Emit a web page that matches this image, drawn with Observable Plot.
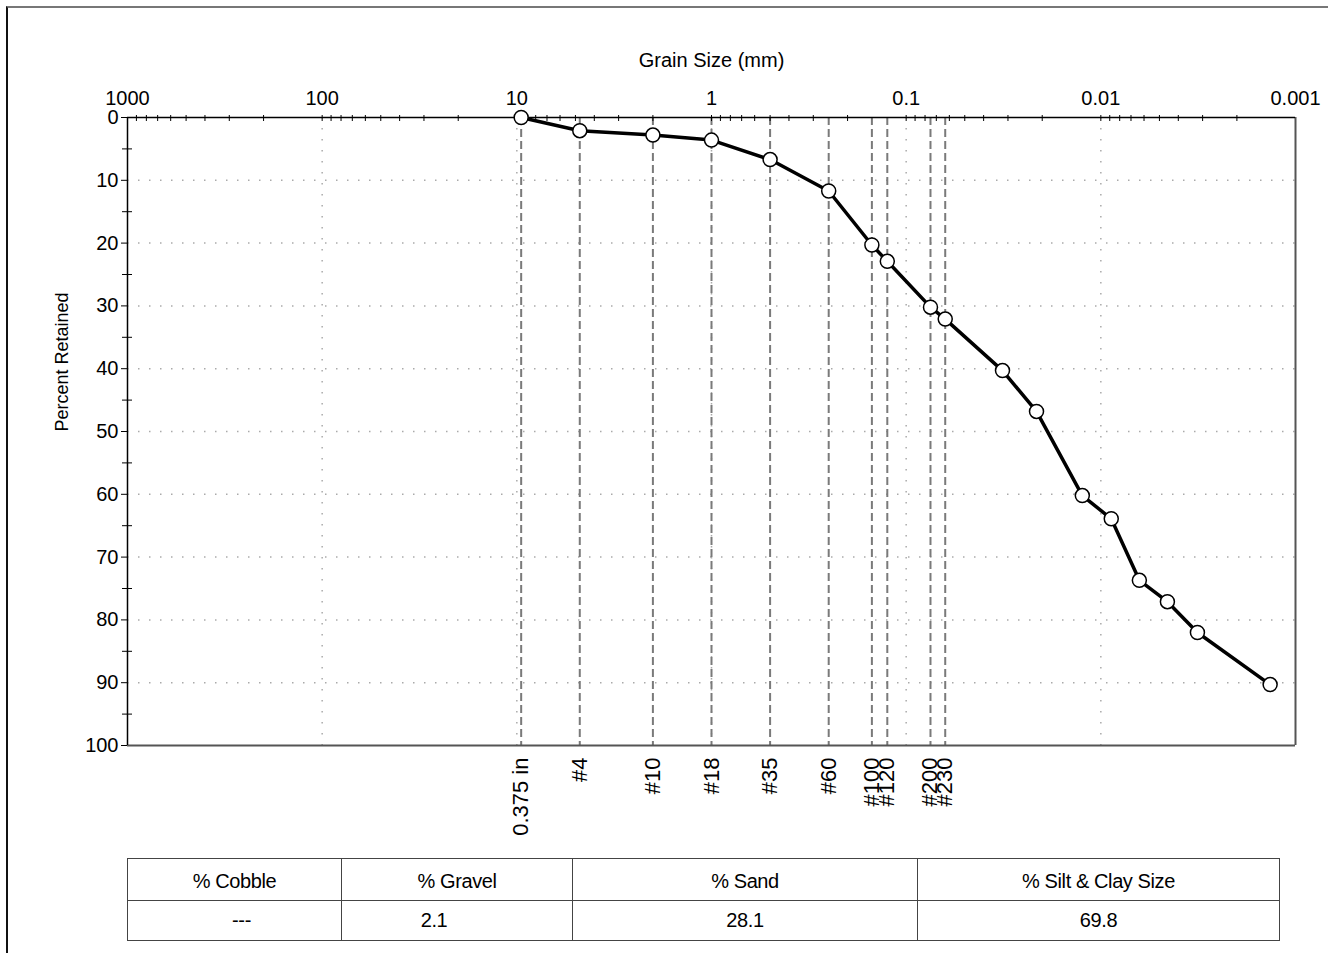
<!DOCTYPE html>
<html>
<head>
<meta charset="utf-8">
<script src="https://cdn.jsdelivr.net/npm/d3@7"></script>
<script src="https://cdn.jsdelivr.net/npm/@observablehq/plot@0.6"></script>
<style>
  html, body { margin: 0; padding: 0; background: #fff; }
  #page { position: relative; width: 1328px; height: 955px; overflow: hidden; background: #fff;
          font-family: "Liberation Sans", Arial, sans-serif; }
  #border { position: absolute; left: 6px; top: 6px; width: 1322px; height: 947px;
            border-top: 2px solid #777; border-left: 2px solid #111; box-sizing: border-box; }
  #chart { position: absolute; left: 0; top: 0; }
  #chart svg { overflow: visible; }
  table { position: absolute; left: 127px; top: 858px; border-collapse: collapse; table-layout: fixed;
          width: 1152px; font-family: "Liberation Sans", Arial, sans-serif; font-size: 20px; color: #000; }
  td { border: 1.5px solid #444; text-align: center; padding: 0; letter-spacing: -0.4px; white-space: nowrap; }
  tr.h td { height: 38px; padding-top: 3px; }
  tr.v td { height: 39px; }
</style>
</head>
<body>
<div id="page">
  <div id="border"></div>
  <div id="chart"></div>
  <table id="tbl"><colgroup id="cols"></colgroup></table>
</div>
<script>
// ---- data ----
const sieveLabels = ["0.375 in", "#4", "#10", "#18", "#35", "#60", "#100", "#120", "#200", "#230"];
const sieveSizes = [9.5, 4.75, 2.0, 1.0, 0.5, 0.25, 0.15, 0.125, 0.075, 0.063];
const grainSize = [9.5, 4.75, 2.0, 1.0, 0.5, 0.25, 0.15, 0.125, 0.075, 0.063,
                   0.032, 0.0214, 0.01245, 0.00884, 0.00634, 0.00455, 0.00319, 0.00135];
const percentRetained = [0, 2.1, 2.8, 3.6, 6.7, 11.7, 20.3, 22.9, 30.2, 32.1,
                         40.3, 46.8, 60.2, 63.9, 73.7, 77.1, 82.0, 90.3];
const xTicks = [1000, 100, 10, 1, 0.1, 0.01, 0.001];
const xTickLabels = ["1000", "100", "10", "1", "0.1", "0.01", "0.001"];
const yTicks = [0, 10, 20, 30, 40, 50, 60, 70, 80, 90, 100];
const yMinorTicks = [5, 15, 25, 35, 45, 55, 65, 75, 85, 95];
const xGrid = [100, 10, 1, 0.1, 0.01];
const yGrid = [10, 20, 30, 40, 50, 60, 70, 80, 90];
const tableHeaders = ["% Cobble", "% Gravel", "% Sand", "% Silt & Clay Size"];
const tableValues = ["---", "2.1", "28.1", "69.8"];

// minor log ticks (2..9 within each decade)
const xMinorTicks = [];
for (const d of [0.001, 0.01, 0.1, 1, 10, 100]) for (let k = 2; k <= 9; k++) xMinorTicks.push(+(d * k).toPrecision(3));

const points = grainSize.map((g, i) => ({size: g, pct: percentRetained[i]}));
const sieves = sieveSizes.map((s, i) => ({size: s, label: sieveLabels[i]}));

const FONT = "Liberation Sans, Arial, sans-serif";
const chart = Plot.plot({
  width: 1328,
  height: 850,
  marginTop: 117,
  marginLeft: 127,
  marginRight: 33,
  marginBottom: 105,
  x: {type: "log", domain: [1000, 0.001]},
  y: {domain: [0, 100], reverse: true},
  style: {fontFamily: FONT, fontSize: "20px", color: "#000", background: "transparent", overflow: "visible"},
  marks: [
    Plot.ruleX(xGrid, {stroke: "#aaa", strokeWidth: 1.5, strokeDasharray: "1.5,9.5"}),
    Plot.ruleY(yGrid, {stroke: "#aaa", strokeWidth: 1.5, strokeDasharray: "1.5,9.5"}),
    Plot.ruleX(sieves, {x: "size", stroke: "#7a7a7a", strokeWidth: 2, strokeDasharray: "8,4"}),
    Plot.ruleY([100], {stroke: "#555", strokeWidth: 2}),
    Plot.ruleX([0.001], {stroke: "#555", strokeWidth: 2}),
    Plot.ruleY([0], {stroke: "#000", strokeWidth: 1.5}),
    Plot.ruleX([1000], {stroke: "#000", strokeWidth: 1.5}),
    Plot.axisX({anchor: "top", ticks: xTicks, tickSize: 0, tickPadding: 13, fontSize: 20,
                tickFormat: d => xTickLabels[xTicks.indexOf(d)], label: null}),
    Plot.axisX({anchor: "top", ticks: [...xTicks.slice(1, -1), ...xMinorTicks], tickSize: 6, dy: 3,
                tickFormat: () => "", label: null}),
    Plot.axisY({ticks: yTicks, tickSize: 6, tickPadding: 3, fontSize: 20, label: null}),
    Plot.axisY({ticks: yMinorTicks, tickSize: 10, dx: 5, tickFormat: () => "", label: null}),
    Plot.text(["Grain Size (mm)"], {text: d => d, frameAnchor: "top", dy: -65, fontSize: 20}),
    Plot.text(["Percent Retained"], {text: d => d, frameAnchor: "left", dx: -65, rotate: -90, fontSize: 18}),
    Plot.text(sieves, {x: "size", text: "label", frameAnchor: "bottom", dx: 7, dy: 12, rotate: -90,
                       textAnchor: "end", fontSize: 22}),
    Plot.line(points, {x: "size", y: "pct", stroke: "#000", strokeWidth: 3.5}),
    Plot.dot(points, {x: "size", y: "pct", r: 7, fill: "#fff", stroke: "#000", strokeWidth: 1.5})
  ]
});
document.getElementById("chart").appendChild(chart);

// summary table
const colWidths = [214, 231, 345, 362];
const cols = document.getElementById("cols");
colWidths.forEach(w => { const c = document.createElement("col"); c.style.width = w + "px"; cols.appendChild(c); });
const tbl = document.getElementById("tbl");
const hr = document.createElement("tr"); hr.className = "h";
tableHeaders.forEach(h => { const td = document.createElement("td"); td.textContent = h; hr.appendChild(td); });
const vr = document.createElement("tr"); vr.className = "v";
tableValues.forEach((v, i) => { const td = document.createElement("td"); td.textContent = v;
  if (i === 0) td.style.paddingLeft = "14px";
  if (i === 1) td.style.paddingRight = "46px";
  vr.appendChild(td); });
tbl.appendChild(hr); tbl.appendChild(vr);
</script>
</body>
</html>
